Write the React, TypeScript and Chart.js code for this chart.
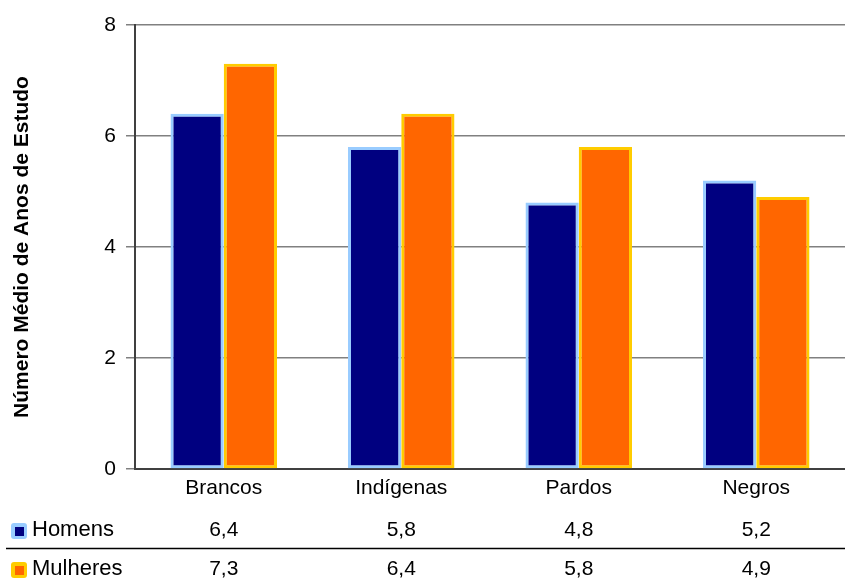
import React, { useEffect, useRef } from "react";
import { Chart, registerables } from "chart.js";

Chart.register(...registerables);

const categories = ["Brancos", "Indígenas", "Pardos", "Negros"];
const homens = [6.4, 5.8, 4.8, 5.2];
const mulheres = [7.3, 6.4, 5.8, 4.9];
const homensLabels = ["6,4", "5,8", "4,8", "5,2"];
const mulheresLabels = ["7,3", "6,4", "5,8", "4,9"];
const yTitle = "Número Médio de Anos de Estudo";

const FONT = "'Liberation Sans', Arial, sans-serif";

const tablePlugin = {
  id: "dataTable",
  afterDraw(chart: any) {
    const ctx = chart.ctx;
    const x = chart.scales.x;
    ctx.save();
    ctx.textBaseline = "middle";
    const rows = [
      { name: "Homens", vals: homensLabels, y: 529, fill: "#000080", border: "#99CCFF" },
      { name: "Mulheres", vals: mulheresLabels, y: 568, fill: "#FF6600", border: "#FFCC00" },
    ];
    rows.forEach((r) => {
      ctx.fillStyle = r.border;
      ctx.beginPath();
      (ctx as any).roundRect(11, r.y - 6, 16, 16, 3);
      ctx.fill();
      ctx.fillStyle = r.fill;
      ctx.fillRect(15, r.y - 2, 9, 9);
      ctx.fillStyle = "#000";
      ctx.textAlign = "left";
      ctx.font = `22px ${FONT}`;
      ctx.fillText(r.name, 32, r.y + 1);
      ctx.font = `21px ${FONT}`;
      ctx.textAlign = "center";
      r.vals.forEach((v, i) => {
        ctx.fillText(v, x.getPixelForValue(i), r.y + 1);
      });
    });
    ctx.strokeStyle = "#000";
    ctx.lineWidth = 1.5;
    ctx.beginPath();
    ctx.moveTo(6, 548.5);
    ctx.lineTo(845, 548.5);
    ctx.stroke();
    ctx.restore();
  },
};

export default function App() {
  const ref = useRef<HTMLCanvasElement>(null);
  useEffect(() => {
    document.body.style.margin = "0";
    const chart = new Chart(ref.current!, {
      type: "bar",
      data: {
        labels: categories,
        datasets: [
          {
            label: "Homens",
            data: homens,
            backgroundColor: "#000080",
            borderColor: "#99CCFF",
            borderWidth: 3,
            borderSkipped: false,
            categoryPercentage: 0.6,
            barPercentage: 1.0,
          },
          {
            label: "Mulheres",
            data: mulheres,
            backgroundColor: "#FF6600",
            borderColor: "#FFCC00",
            borderWidth: 3,
            borderSkipped: false,
            categoryPercentage: 0.6,
            barPercentage: 1.0,
          },
        ],
      },
      options: {
        responsive: false,
        animation: false,
        layout: { padding: { top: 25, right: 0, bottom: 69, left: 0 } },
        plugins: {
          legend: { display: false },
          tooltip: { enabled: false },
        },
        scales: {
          x: {
            grid: { display: false, drawTicks: false },
            border: { color: "#404040", width: 2 },
            ticks: {
              color: "#000",
              font: { family: FONT, size: 21 },
              padding: 7,
            },
            afterFit: (s: any) => {
              s.height = 40;
            },
          },
          y: {
            min: 0,
            max: 8,
            ticks: {
              stepSize: 2,
              color: "#000",
              font: { family: FONT, size: 21 },
              padding: 10,
            },
            grid: { color: "#808080", lineWidth: 1.5, tickLength: 9 },
            border: { color: "#404040", width: 2 },
            title: {
              display: true,
              text: yTitle,
              color: "#000",
              font: { family: FONT, size: 21, weight: "bold" },
              padding: { top: 10, bottom: 0 },
            },
            afterFit: (s: any) => {
              s.width = 135;
            },
          },
        },
      },
      plugins: [tablePlugin],
    });
    return () => chart.destroy();
  }, []);
  return (
    <div style={{ position: "absolute", left: 0, top: 0, width: 845, height: 578 }}>
      <canvas ref={ref} width={845} height={578} />
    </div>
  );
}
